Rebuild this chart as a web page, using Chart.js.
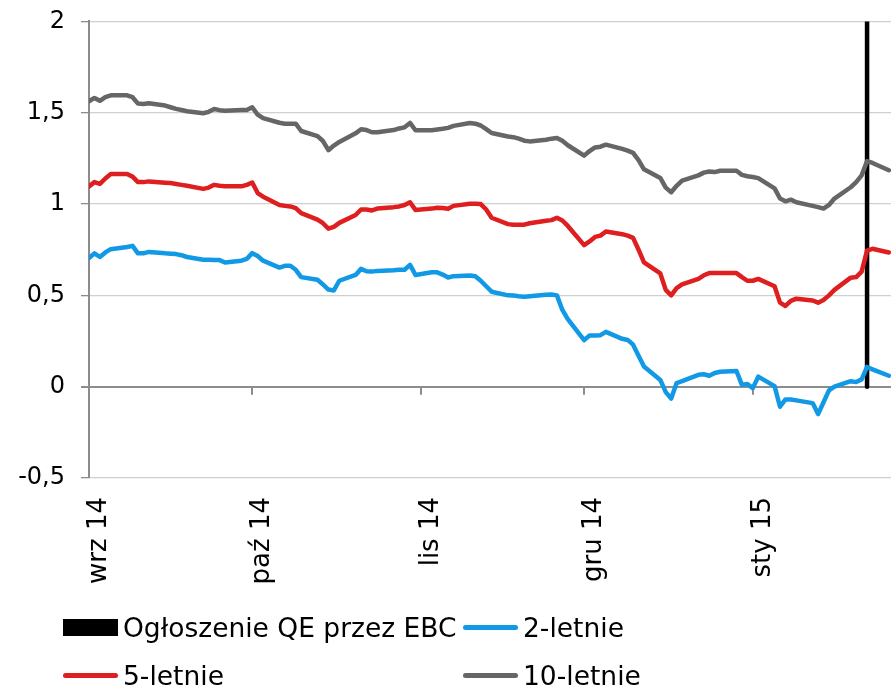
<!DOCTYPE html>
<html>
<head>
<meta charset="utf-8">
<script src="https://cdn.jsdelivr.net/npm/chart.js@4.4.1/dist/chart.umd.min.js"></script>
<style>
body { margin: 0; background: #fff; font-family: 'DejaVu Sans', Verdana, sans-serif; }
#wrap { position: relative; width: 891px; height: 686px; overflow: hidden; }
#chart { position: absolute; left: 0; top: -9px; }
#legend { position: absolute; left: 0; top: 0; width: 891px; height: 686px; pointer-events: none; }
.item { position: absolute; display: flex; align-items: center; height: 40px; font-size: 26.5px; color: #000; white-space: nowrap; }
.mark { width: 55px; margin-right: 5px; }
</style>
</head>
<body>
<div id="wrap">
  <canvas id="chart" width="891" height="695"></canvas>
  <div id="legend"></div>
</div>
<script>
// days counted from 1 Sep 2014 (business days only)
const days = [
  0, 1, 2, 3, 4, 7, 8, 9, 10, 11, 14, 15, 16, 17, 18, 21, 22, 23, 24, 25, 28, 29,
  30, 31, 32, 35, 36, 37, 38, 39, 42, 43, 44, 45, 46, 49, 50, 51, 52, 53, 56, 57, 58, 59, 60,
  63, 64, 65, 66, 67, 70, 71, 72, 73, 74, 77, 78, 79, 80, 81, 84, 85, 86, 87, 88,
  91, 92, 93, 94, 95, 98, 99, 100, 101, 102, 105, 106, 107, 108, 109, 112, 113, 114, 115, 116, 119, 120, 121,
  122, 123, 126, 127, 128, 129, 130, 133, 134, 135, 136, 137, 140, 141, 142, 143, 144, 147
];

const y2 = [
  0.704, 0.73, 0.71, 0.735, 0.753, 0.765, 0.771, 0.73, 0.73, 0.738, 0.73, 0.728, 0.726, 0.72, 0.71, 0.695, 0.695, 0.694, 0.693, 0.68, 0.69, 0.70,
  0.731, 0.715, 0.69, 0.652, 0.662, 0.662, 0.64, 0.60, 0.585, 0.56, 0.532, 0.527, 0.58, 0.612, 0.645, 0.632, 0.63, 0.634, 0.637, 0.64, 0.64, 0.667, 0.612,
  0.626, 0.626, 0.614, 0.598, 0.605, 0.609, 0.605, 0.58, 0.55, 0.52, 0.50, 0.499, 0.495, 0.492, 0.495, 0.503, 0.505, 0.50, 0.42, 0.37,
  0.255, 0.28, 0.28, 0.282, 0.30, 0.262, 0.256, 0.23, 0.17, 0.11, 0.037, -0.03, -0.065, 0.02, 0.03, 0.065, 0.068, 0.06, 0.075, 0.082, 0.086, 0.01, 0.015,
  -0.008, 0.055, 0.003, -0.11, -0.07, -0.07, -0.075, -0.09, -0.15, -0.085, -0.02, 0.0, 0.03, 0.025, 0.04, 0.108, 0.095, 0.06
];

const y5 = [
  1.096, 1.12, 1.11, 1.14, 1.164, 1.164, 1.15, 1.12, 1.12, 1.124, 1.117, 1.115, 1.11, 1.105, 1.10, 1.083, 1.09, 1.105, 1.10, 1.097, 1.097, 1.105,
  1.118, 1.06, 1.04, 0.995, 0.99, 0.987, 0.978, 0.95, 0.915, 0.895, 0.865, 0.875, 0.897, 0.94, 0.97, 0.97, 0.965, 0.975, 0.983, 0.987, 0.995, 1.01, 0.968,
  0.975, 0.98, 0.978, 0.974, 0.99, 1.002, 1.002, 1.0, 0.97, 0.925, 0.89, 0.887, 0.887, 0.887, 0.895, 0.908, 0.912, 0.925, 0.91, 0.88,
  0.775, 0.795, 0.82, 0.827, 0.85, 0.835, 0.827, 0.815, 0.75, 0.68, 0.62, 0.53, 0.50, 0.54, 0.56, 0.59, 0.61, 0.622, 0.622, 0.622, 0.622, 0.60, 0.58,
  0.58, 0.59, 0.55, 0.46, 0.442, 0.47, 0.482, 0.472, 0.46, 0.475, 0.50, 0.53, 0.597, 0.60, 0.63, 0.745, 0.755, 0.735
];

const y10 = [
  1.563, 1.581, 1.565, 1.585, 1.595, 1.595, 1.585, 1.55, 1.548, 1.552, 1.539, 1.53, 1.521, 1.515, 1.508, 1.497, 1.505, 1.52, 1.514, 1.511, 1.515, 1.515,
  1.53, 1.49, 1.47, 1.445, 1.44, 1.44, 1.44, 1.40, 1.372, 1.345, 1.295, 1.32, 1.34, 1.387, 1.41, 1.405, 1.393, 1.393, 1.405, 1.414, 1.42, 1.444, 1.404,
  1.404, 1.408, 1.412, 1.417, 1.428, 1.444, 1.44, 1.43, 1.41, 1.389, 1.37, 1.366, 1.358, 1.347, 1.343, 1.352, 1.358, 1.362, 1.346, 1.322,
  1.265, 1.29, 1.31, 1.314, 1.325, 1.302, 1.292, 1.28, 1.24, 1.19, 1.143, 1.09, 1.065, 1.10, 1.128, 1.157, 1.172, 1.178, 1.175, 1.182, 1.182, 1.16, 1.152,
  1.148, 1.142, 1.086, 1.03, 1.015, 1.024, 1.01, 0.99, 0.983, 0.975, 0.995, 1.03, 1.092, 1.12, 1.157, 1.235, 1.225, 1.185
];

// QE announcement (22 Jan 2015) drawn as a vertical bar from 0 to 2
const qeDay = 143;
const qeLine = [0, 2];

const monthTicks = [0, 30, 61, 91, 122];
const monthLabels = ['wrz 14', 'paź 14', 'lis 14', 'gru 14', 'sty 15'];
const yTicks = [-0.5, 0, 0.5, 1, 1.5, 2];

const labels = ['Ogłoszenie QE przez EBC', '2-letnie', '5-letnie', '10-letnie'];
const colors = ['#000000', '#1199e6', '#df1f1f', '#666666'];

Chart.defaults.font.family = "'DejaVu Sans', Verdana, sans-serif";
Chart.defaults.color = '#000';

const toPoints = vals => vals.map((v, i) => ({ x: days[i], y: v }));

// small tick marks hanging under the zero line
const zeroTicks = {
    id: 'zeroTicks',
    beforeDatasetsDraw(chart) {
        const xs = chart.scales.x, ys = chart.scales.y, c = chart.ctx;
        const y0 = ys.getPixelForValue(0);
        c.save();
        c.strokeStyle = '#8c8c8c';
        c.lineWidth = 2;
        c.beginPath();
        monthTicks.forEach(t => {
            const px = Math.round(xs.getPixelForValue(t));
            c.moveTo(px, y0);
            c.lineTo(px, y0 + 8);
        });
        c.stroke();
        c.restore();
    }
};

const ctx = document.getElementById('chart').getContext('2d');
new Chart(ctx, {
    type: 'line',
    data: {
        datasets: [{
            label: labels[0],
            data: qeLine.map(v => ({ x: qeDay, y: v })),
            borderColor: colors[0],
            borderWidth: 4.5,
            order: 1
        }, {
            label: labels[1],
            data: toPoints(y2),
            borderColor: colors[1],
            borderWidth: 4.5,
            order: 0
        }, {
            label: labels[2],
            data: toPoints(y5),
            borderColor: colors[2],
            borderWidth: 4.5,
            order: 0
        }, {
            label: labels[3],
            data: toPoints(y10),
            borderColor: colors[3],
            borderWidth: 4.5,
            order: 0
        }]
    },
    options: {
        responsive: false,
        animation: false,
        layout: { padding: { top: 12, right: 0, left: 0, bottom: 0 } },
        elements: {
            point: { radius: 0 },
            line: { tension: 0, borderJoinStyle: 'round', borderCapStyle: 'round' }
        },
        plugins: {
            legend: { display: false },
            tooltip: { enabled: false }
        },
        scales: {
            x: {
                type: 'linear',
                min: 0,
                max: 147.4,
                afterBuildTicks: s => { s.ticks = monthTicks.map(v => ({ value: v })); },
                afterFit: s => { s.height = 208; },
                grid: { display: false, drawTicks: false },
                border: { display: false },
                ticks: {
                    autoSkip: false,
                    minRotation: 90,
                    maxRotation: 90,
                    padding: 19,
                    labelOffset: 10,
                    font: { size: 26 },
                    callback: (v, i) => monthLabels[i]
                }
            },
            y: {
                min: -0.5,
                max: 2,
                afterBuildTicks: s => { s.ticks = yTicks.map(v => ({ value: v })); },
                afterFit: s => { s.width = 89; },
                grid: {
                    color: c => c.tick.value === 0 ? '#8c8c8c' : '#d0d0d0',
                    lineWidth: c => c.tick.value === 0 ? 2 : 1.3,
                    tickLength: 8,
                    tickColor: '#8c8c8c'
                },
                border: { color: '#8c8c8c', width: 2 },
                ticks: {
                    padding: 16,
                    font: { size: 24 },
                    callback: v => String(v).replace('.', ',')
                }
            }
        }
    },
    plugins: [zeroTicks]
});

// legend in two columns below the chart
const legend = document.getElementById('legend');
labels.forEach((name, i) => {
    const item = document.createElement('div');
    item.className = 'item';
    item.style.left = (63 + (i % 2) * 400) + 'px';
    item.style.top = (607 + Math.floor(i / 2) * 48) + 'px';
    const mark = document.createElement('div');
    mark.className = 'mark';
    mark.style.background = colors[i];
    if (i === 0) {
        mark.style.height = '17px';
    } else {
        mark.style.height = '5px';
        mark.style.borderRadius = '3px';
    }
    const txt = document.createElement('span');
    txt.textContent = name;
    item.appendChild(mark);
    item.appendChild(txt);
    legend.appendChild(item);
});
</script>
</body>
</html>
